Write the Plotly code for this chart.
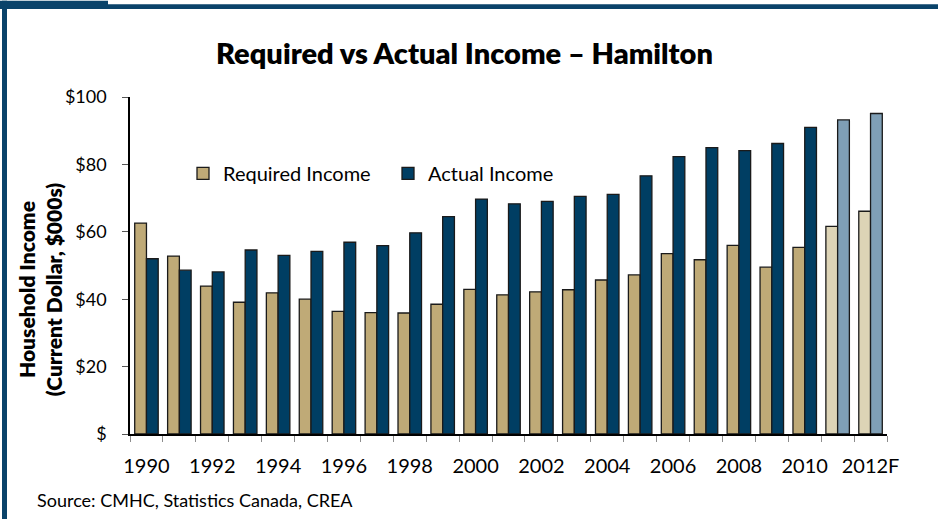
import plotly.graph_objects as go

# Household income in Hamilton, thousands of current dollars
years = ["1990", "1991", "1992", "1993", "1994", "1995", "1996", "1997", "1998",
         "1999", "2000", "2001", "2002", "2003", "2004", "2005", "2006", "2007",
         "2008", "2009", "2010", "2011", "2012F"]
required_income = [62.6, 52.8, 43.9, 39.1, 41.9, 40.0, 36.4, 36.0, 35.9,
                   38.5, 42.9, 41.3, 42.2, 42.8, 45.7, 47.2, 53.5, 51.7,
                   56.0, 49.5, 55.4, 61.6, 66.1]
actual_income = [52.0, 48.6, 48.1, 54.6, 53.0, 54.2, 56.9, 55.9, 59.7,
                 64.5, 69.7, 68.3, 69.0, 70.5, 71.1, 76.6, 82.3, 85.0,
                 84.1, 86.2, 91.0, 93.2, 95.1]
forecast = [False] * 21 + [True, True]
y_ticks = [0, 20, 40, 60, 80, 100]
y_tick_labels = ["$", "$20", "$40", "$60", "$80", "$100"]

REQ = "#bfaa77"
REQ_F = "#ddd4b6"
ACT = "#003e63"
ACT_F = "#7f9fb6"
NAVY = "#0a436a"
FONT = "Lato"

idx = list(range(len(years)))

fig = go.Figure()
fig.add_trace(go.Bar(
    x=idx, y=required_income, name="Required Income",
    marker=dict(color=[REQ_F if f else REQ for f in forecast],
                line=dict(color="#1a1a1a", width=1.3)),
))
fig.add_trace(go.Bar(
    x=idx, y=actual_income, name="Actual Income",
    marker=dict(color=[ACT_F if f else ACT for f in forecast],
                line=dict(color="#1a1a1a", width=1.3)),
))

# plot area in pixels: x 130..887, y 96.5..434
L, R, T, B = 130, 887, 96.5, 434
W, H = 938, 519
pw, ph = R - L, B - T


def px(x):
    return (x - L) / pw


def py(y):
    return (B - y) / ph


shapes = [
    # left frame bar
    dict(type="rect", xref="paper", yref="paper", x0=px(2), x1=px(7),
         y0=py(0), y1=py(W), fillcolor=NAVY, line_width=0, layer="above"),
    # top tab and rule
    dict(type="rect", xref="paper", yref="paper", x0=px(0), x1=px(108),
         y0=py(0), y1=py(8.3), fillcolor=NAVY, line_width=0),
    dict(type="rect", xref="paper", yref="paper", x0=px(108), x1=px(W),
         y0=py(3.5), y1=py(8.3), fillcolor=NAVY, line_width=0),
]

fig.update_layout(
    width=W, height=H,
    margin=dict(l=L, r=W - R, t=T, b=H - B, autoexpand=False),
    paper_bgcolor="white", plot_bgcolor="white",
    font=dict(family=FONT, color="black", size=18),
    barmode="group", bargap=0.286, bargroupgap=0,
    showlegend=True,
    legend=dict(orientation="h", x=px(183), y=py(173), xanchor="left",
                yanchor="middle", font=dict(size=20, family=FONT),
                bgcolor="rgba(0,0,0,0)", entrywidth=160, itemwidth=30),
    title=dict(text="Required vs Actual Income – Hamilton",
               x=464.5 / W, xref="container", xanchor="center",
               y=1 - 54 / H, yanchor="middle",
               font=dict(size=29, family=FONT, color="black", weight=800)),
    shapes=shapes,
    annotations=[
        dict(text="Household Income<br>(Current Dollar, $000s)",
             xref="paper", yref="paper", x=px(40), y=py(289),
             xanchor="center", yanchor="middle", textangle=-90,
             showarrow=False,
             font=dict(size=21, family=FONT, weight=800)),
        dict(text="Source: CMHC, Statistics Canada, CREA",
             xref="paper", yref="paper", x=px(35), y=py(500),
             xanchor="left", yanchor="middle", showarrow=False,
             font=dict(size=18, family=FONT)),
    ],
)

fig.update_xaxes(
    range=[-0.5, len(years) - 0.5],
    tickmode="array", tickvals=idx[::2], ticktext=years[::2],
    ticks="", showline=True, linecolor="black", linewidth=1.5,
    showgrid=False, zeroline=False, ticklabelstandoff=13,
    tickfont=dict(size=20),
    minor=dict(tick0=-0.5, dtick=1, ticks="outside", ticklen=6,
               tickcolor="#8c8c8c", tickwidth=1, showgrid=False),
)
fig.update_yaxes(
    range=[0, 100], tickmode="array", tickvals=y_ticks, ticktext=y_tick_labels,
    ticks="outside", ticklen=6, tickcolor="#555555",
    showline=True, linecolor="black", linewidth=1.5,
    showgrid=False, zeroline=False, ticklabelstandoff=12,
    tickfont=dict(size=18),
)

fig.write_html("out.html")
